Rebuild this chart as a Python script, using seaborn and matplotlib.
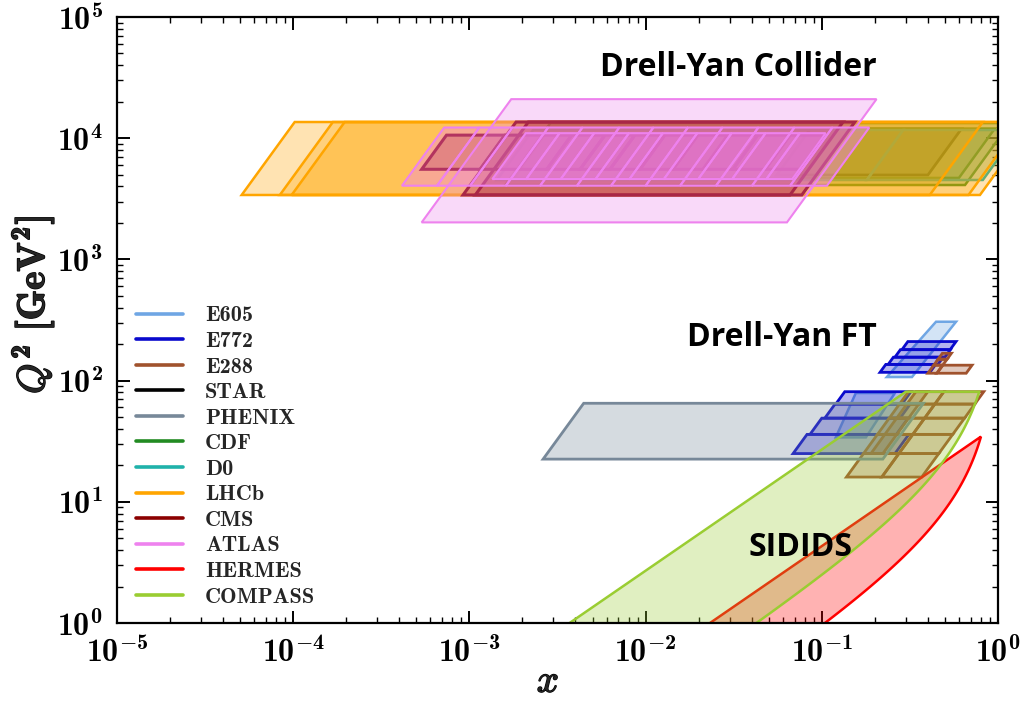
import numpy as np
import matplotlib
matplotlib.use("Agg")
import matplotlib.pyplot as plt
import matplotlib.patheffects as pe
from matplotlib.lines import Line2D
from matplotlib.ticker import LogLocator, NullFormatter
from matplotlib.font_manager import FontProperties
import seaborn as sns

# ---------------------------------------------------------------- data
# Drell-Yan cells: x range given at the lower Q^2 edge; the slanted sides
# follow x ~ Q (fixed rapidity), so the upper edge is shifted by sqrt(Q2hi/Q2lo).

# E605 (upper and lower strips; explicit x at the upper edge)
E605_XLO = [0.234, 0.120]
E605_XHI = [0.325, 0.178]
E605_XLO_TOP = [0.445, 0.156]
E605_XHI_TOP = [0.578, 0.260]
E605_Q2LO = [107, 34]
E605_Q2HI = [306, 79]

# E772 rows
E772_XLO = [0.0687, 0.0857, 0.104, 0.120, 0.214, 0.238, 0.260, 0.285]
E772_XHI = [0.260, 0.265, 0.278, 0.285, 0.411, 0.456, 0.500, 0.535]
E772_Q2LO = [25, 36, 49, 64, 117, 136, 156, 180]
E772_Q2HI = [36, 49, 64, 81, 136, 156, 180, 210]

# E288 grids: x edges at the lowest Q^2 edge of each grid
E288_LOW_X = [0.138, 0.219, 0.369]
E288_LOW_Q2 = [16, 25, 36, 49, 64, 81]
E288_MID_X = [0.190, 0.222]
E288_MID_Q2 = [25, 36, 49, 64, 81]
E288_HIGH_X = [0.40, 0.45, 0.66]
E288_HIGH_Q2 = [115, 134, 150, 168]
E288_HIGH_CELLS = [(0, 0), (0, 1), (1, 0), (2, 0)]

# RHIC
STAR_X = [0.0555, 0.40]
STAR_Q2 = [4970, 11900]
PHENIX_X = [0.00262, 0.222]
PHENIX_Q2 = [22.5, 65]

# Tevatron
CDF_XLO = [1.6e-3, 1.8e-3]
CDF_XHI = [0.65, 0.60]
CDF_Q2LO = [4110, 4700]
CDF_Q2HI = [13340, 12000]
D0_XEDGES = [1.43e-3, 6.5e-3, 0.18, 0.82]
D0_Q2 = [4520, 11690]

# LHC
LHCB_XLO = [5.1e-5, 8.4e-5, 9.8e-5]
LHCB_XHI = [0.41, 0.68, 0.79]
LHCB_Q2 = [3400, 13600]
CMS_XLO = [9.2e-4, 1.08e-3]
CMS_XHI = [0.066, 0.077]
CMS_Q2 = [3400, 13600]
CMS_BIN_X = [5.36e-4, 1.15e-3, 1.89e-3, 2.75e-3, 4.25e-3, 6.28e-3,
             9.29e-3, 0.0143, 0.0212, 0.0313, 0.0477, 0.0751]
CMS_BIN_Q2 = [5540, 10600]
ATLAS_X = [5.36e-4, 0.0634]
ATLAS_Q2 = [2020, 21000]
ATLAS_BIN_X = [4.14e-4, 6.55e-4, 1.01e-3, 1.61e-3, 2.52e-3, 4.08e-3, 6.37e-3,
               0.010, 0.0157, 0.0251, 0.0402, 0.0661, 0.107]
ATLAS_BIN_Q2 = [4055, 12250]
ATLAS_BIN2_X = [1.35e-3, 2.1e-3, 3.3e-3, 5.2e-3, 8.1e-3, 0.0127,
                0.0199, 0.031, 0.0485, 0.068]
ATLAS_BIN2_Q2 = [4600, 11000]

# SIDIS regions: Q^2 = (y_max s) x on the left, W^2 cut on the right
# (Q^2 = w x / (1 - x)), optional upper Q^2 limit
HERMES_YS, HERMES_W, HERMES_Q2MAX = 43.1, 8.6, None
COMPASS_YS, COMPASS_W, COMPASS_Q2MAX = 270.0, 22.5, 81.0

LEGEND_NAMES = ["E605", "E772", "E288", "STAR", "PHENIX", "CDF", "D0",
                "LHCb", "CMS", "ATLAS", "HERMES", "COMPASS"]
COLORS = {"E605": "#6fa6e4", "E772": "#0a0acd", "E288": "#a0522d",
          "STAR": "#000000", "PHENIX": "#778899", "CDF": "#228b22",
          "D0": "#20b2aa", "LHCb": "#ffa500", "CMS": "#8b0000",
          "ATLAS": "#ee82ee", "HERMES": "#ff0000", "COMPASS": "#9acd32"}

XTICKS = [1e-5, 1e-4, 1e-3, 1e-2, 1e-1, 1e0]
XTICK_LABELS = [r"$10^{-5}$", r"$10^{-4}$", r"$10^{-3}$",
                r"$10^{-2}$", r"$10^{-1}$", r"$10^{0}$"]
YTICKS = [1e0, 1e1, 1e2, 1e3, 1e4, 1e5]
YTICK_LABELS = [r"$10^{0}$", r"$10^{1}$", r"$10^{2}$",
                r"$10^{3}$", r"$10^{4}$", r"$10^{5}$"]

# ---------------------------------------------------------------- style
sns.set_theme(style="ticks")
plt.rcParams.update({
    "mathtext.fontset": "custom",
    "mathtext.rm": "cmb10",
    "mathtext.bf": "cmb10",
    "mathtext.it": "cmmi10",
    "mathtext.fallback": "cm",
    "axes.edgecolor": "black",
    "axes.linewidth": 1.6,
    "xtick.direction": "in", "ytick.direction": "in",
    "xtick.top": True, "ytick.right": True,
    "xtick.major.size": 9, "ytick.major.size": 9,
    "xtick.minor.size": 4.5, "ytick.minor.size": 4.5,
    "xtick.major.width": 1.4, "ytick.major.width": 1.4,
    "xtick.minor.width": 1.0, "ytick.minor.width": 1.0,
    "xtick.color": "black", "ytick.color": "black",
})

FILL_ALPHA = 0.3
LW = 1.8

fig = plt.figure(figsize=(10.22, 7.01), dpi=100)
ax = fig.add_axes([117 / 1022, 1 - 623 / 701, (998 - 117) / 1022, (623 - 17) / 701])
ax.set_xscale("log")
ax.set_yscale("log")
ax.set_xlim(1e-5, 1)
ax.set_ylim(1, 1e5)


def quad(xs, ys, color, lw=LW, alpha=FILL_ALPHA):
    ax.fill(xs, ys, facecolor=color, alpha=alpha, edgecolor="none")
    ax.fill(xs, ys, facecolor="none", edgecolor=color, lw=lw, joinstyle="miter")


def dy_cell(xlo, xhi, q2lo, q2hi, color, xlo_top=None, xhi_top=None, lw=LW,
            alpha=FILL_ALPHA):
    s = np.sqrt(q2hi / q2lo)
    xlt = xlo * s if xlo_top is None else xlo_top
    xht = xhi * s if xhi_top is None else xhi_top
    quad([xlo, xhi, xht, xlt], [q2lo, q2lo, q2hi, q2hi], color, lw, alpha)


def dy_grid(xedges, q2edges, color, cells=None, lw=LW, alpha=FILL_ALPHA):
    q0 = q2edges[0]
    for i in range(len(q2edges) - 1):
        s = np.sqrt(q2edges[i] / q0)
        for j in range(len(xedges) - 1):
            if cells is not None and (i, j) not in cells:
                continue
            dy_cell(xedges[j] * s, xedges[j + 1] * s, q2edges[i], q2edges[i + 1],
                    color, lw=lw, alpha=alpha)


def sidis(ys, w, q2max, color):
    q2min = 0.5
    if q2max is None:
        x_top = 1.0 - w / ys
        q_top = ys * x_top
        left = [(q2min / ys, q2min), (x_top, q_top)]
    else:
        x_top = q2max / (w + q2max)
        left = [(q2min / ys, q2min), (q2max / ys, q2max)]
    x_bot = q2min / (w + q2min)
    xc = np.geomspace(x_top, x_bot, 200)
    right = list(zip(xc, w * xc / (1 - xc)))
    pts = left + right
    quad([p[0] for p in pts], [p[1] for p in pts], color)


# ---------------------------------------------------------------- draw
for i in range(len(E605_XLO)):
    dy_cell(E605_XLO[i], E605_XHI[i], E605_Q2LO[i], E605_Q2HI[i], COLORS["E605"],
            E605_XLO_TOP[i], E605_XHI_TOP[i])

for i in range(len(E772_XLO)):
    dy_cell(E772_XLO[i], E772_XHI[i], E772_Q2LO[i], E772_Q2HI[i], COLORS["E772"],
            lw=2.0)

dy_grid(E288_LOW_X, E288_LOW_Q2, COLORS["E288"], lw=2.0)
dy_grid(E288_MID_X, E288_MID_Q2, COLORS["E288"], lw=2.0)
dy_grid(E288_HIGH_X, E288_HIGH_Q2, COLORS["E288"], E288_HIGH_CELLS, lw=2.0)

dy_cell(STAR_X[0], STAR_X[1], STAR_Q2[0], STAR_Q2[1], COLORS["STAR"], lw=2.0)
dy_cell(PHENIX_X[0], PHENIX_X[1], PHENIX_Q2[0], PHENIX_Q2[1], COLORS["PHENIX"], lw=2.0)
for i in range(len(CDF_XLO)):
    dy_cell(CDF_XLO[i], CDF_XHI[i], CDF_Q2LO[i], CDF_Q2HI[i], COLORS["CDF"])
dy_grid(D0_XEDGES, D0_Q2, COLORS["D0"])

for lo, hi in zip(LHCB_XLO, LHCB_XHI):
    dy_cell(lo, hi, LHCB_Q2[0], LHCB_Q2[1], COLORS["LHCb"])

for lo, hi in zip(CMS_XLO, CMS_XHI):
    dy_cell(lo, hi, CMS_Q2[0], CMS_Q2[1], COLORS["CMS"], lw=2.2)
dy_grid(CMS_BIN_X, CMS_BIN_Q2, COLORS["CMS"], lw=2.2)

dy_cell(ATLAS_X[0], ATLAS_X[1], ATLAS_Q2[0], ATLAS_Q2[1], COLORS["ATLAS"], lw=1.5)
dy_grid(ATLAS_BIN_X, ATLAS_BIN_Q2, COLORS["ATLAS"], lw=1.5, alpha=0.4)
dy_grid(ATLAS_BIN2_X, ATLAS_BIN2_Q2, COLORS["ATLAS"], lw=1.5, alpha=0.55)

sidis(HERMES_YS, HERMES_W, HERMES_Q2MAX, COLORS["HERMES"])
sidis(COMPASS_YS, COMPASS_W, COMPASS_Q2MAX, COLORS["COMPASS"])

# ---------------------------------------------------------------- axes
ax.set_xticks(XTICKS, labels=XTICK_LABELS)
ax.set_yticks(YTICKS, labels=YTICK_LABELS)
for axis in (ax.xaxis, ax.yaxis):
    axis.set_minor_locator(LogLocator(base=10, subs=np.arange(2, 10), numticks=20))
    axis.set_minor_formatter(NullFormatter())
ax.tick_params(axis="x", which="major", labelsize=23, pad=10)
ax.tick_params(axis="y", which="major", labelsize=23, pad=10)
ax.set_xlim(1e-5, 1)
ax.set_ylim(1, 1e5)

bold = [pe.withStroke(linewidth=1.0, foreground="black")]
ax.set_xlabel(r"$x$", fontsize=28, path_effects=bold, va="center")
ax.xaxis.set_label_coords((548 - 117) / 881, (623 - 681) / 606)
ax.set_ylabel(r"$Q^2\ [\mathrm{GeV}^2]$", fontsize=28, path_effects=bold, va="center")
ax.yaxis.set_label_coords((33 - 117) / 881, (623 - 305) / 606)

handles = [Line2D([0], [0], color=COLORS[n], lw=2.6) for n in LEGEND_NAMES]
ax.legend(handles, LEGEND_NAMES, loc="upper left",
          bbox_to_anchor=((127 - 117) / 881, (623 - 297) / 606),
          frameon=False, prop=FontProperties(family="cmb10", size=16),
          handlelength=2.1, handletextpad=1.0, labelspacing=0.27,
          borderaxespad=0.0)

label_font = dict(family=["Open Sans", "DejaVu Sans"], fontweight="bold",
                  color="black", ha="center", va="center")
ax.text((738 - 117) / 881, (623 - 67) / 606, "Drell-Yan Collider",
        transform=ax.transAxes, fontsize=23, **label_font)
ax.text((782 - 117) / 881, (623 - 338) / 606, "Drell-Yan FT",
        transform=ax.transAxes, fontsize=23, **label_font)
ax.text((800 - 117) / 881, (623 - 548) / 606, "SIDIDS",
        transform=ax.transAxes, fontsize=23, **label_font)

fig.savefig("out.png", dpi=100)
